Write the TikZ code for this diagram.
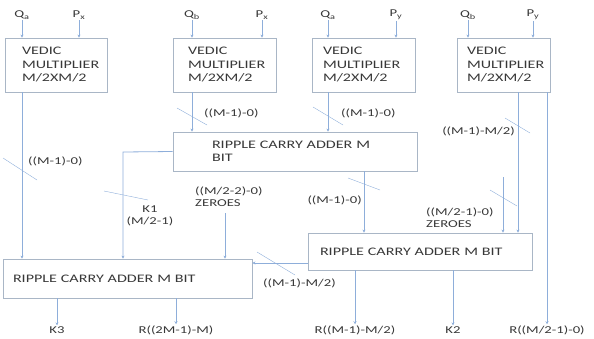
\documentclass[tikz,border=0pt]{standalone}
\usepackage{fontspec}
\setmainfont{Carlito}[FakeStretch=1.4]
\usepackage{tikz}
\usetikzlibrary{
  arrows.meta,
  positioning,
  calc,
}
\definecolor{wireblue}{HTML}{8EAEDA}
\definecolor{boxgray}{HTML}{A9B6C6}
\definecolor{txtgray}{HTML}{383838}

\begin{document}
\begin{tikzpicture}[
    x=1pt, y=-1pt,
    blk/.style={draw=boxgray, thick, align=left, text=txtgray,
                font=\fontsize{11.5}{13.5}\selectfont},
    lbl/.style={text=txtgray, inner sep=1pt,
                font=\fontsize{10.5}{12}\selectfont},
    wire/.style={draw=wireblue, thick},
    bus/.style={draw=wireblue, thin},
    >={Stealth[length=3pt, width=3pt]},
  ]
  \useasboundingbox (0,0) rectangle (594,338);

  % Vedic multipliers
  \node[blk, minimum width=102, minimum height=54, text width=68, inner xsep=17]
    (vm1) at (56,65) {VEDIC\\MULTIPLIER\\M/2XM/2};
  \node[blk, minimum width=103, minimum height=54, text width=73, inner xsep=15]
    (vm2) at (224.5,65) {VEDIC\\MULTIPLIER\\M/2XM/2};
  \node[blk, minimum width=103, minimum height=54, text width=81, inner xsep=11]
    (vm3) at (363.5,65) {VEDIC\\MULTIPLIER\\M/2XM/2};
  \node[blk, minimum width=93, minimum height=54, text width=73, inner xsep=10]
    (vm4) at (503.5,65) {VEDIC\\MULTIPLIER\\M/2XM/2};

  % Ripple carry adders
  \node[blk, minimum width=244, minimum height=39, text width=166, inner xsep=39]
    (rca1) at (295,151.5) {RIPPLE CARRY ADDER M\\BIT};
  \node[blk, minimum width=224, minimum height=37, text width=200, inner xsep=12]
    (rca2) at (420,251.5) {RIPPLE CARRY ADDER M BIT};
  \node[blk, minimum width=249, minimum height=39, text width=229, inner xsep=10]
    (rca3) at (127.5,278.5) {RIPPLE CARRY ADDER M BIT};

  % inputs
  \node[lbl] (qa1) at (22,15)  {Q\textsubscript{a}};
  \node[lbl] (px1) at (79,15)  {P\textsubscript{x}};
  \node[lbl] (qb2) at (192,15) {Q\textsubscript{b}};
  \node[lbl] (px2) at (262,15) {P\textsubscript{x}};
  \node[lbl] (qa3) at (328,15) {Q\textsubscript{a}};
  \node[lbl] (py3) at (396,15) {P\textsubscript{y}};
  \node[lbl] (qb4) at (468,15) {Q\textsubscript{b}};
  \node[lbl] (py4) at (533,15) {P\textsubscript{y}};
  \foreach \i/\b in {qa1/vm1, px1/vm1, qb2/vm2, px2/vm2,
                     qa3/vm3, py3/vm3, qb4/vm4, py4/vm4}
    \draw[wire,->] (\i) -- (\i |- \b.north);

  % outputs
  \node[lbl] (k3)   at (57,330)  {K3};
  \node[lbl] (rhi)  at (176,330) {R((2M-1)-M)};
  \node[lbl] (rmid) at (355,330) {R((M-1)-M/2)};
  \node[lbl] (k2)   at (453,330) {K2};
  \node[lbl] (rlo)  at (547,330) {R((M/2-1)-0)};
  \draw[wire,->] (k3 |- rca3.south) -- (k3.north);
  \draw[wire,->] (rhi |- rca3.south) -- (rhi.north);
  \draw[wire,->] (rmid |- rca2.south) -- (rmid.north);
  \draw[wire,->] (k2 |- rca2.south) -- (k2.north);
  \draw[wire,->] (rlo |- vm4.south) -- (rlo.north);

  % internal wires
  \coordinate (m1) at (22,169);
  \coordinate (m2) at (192,116);
  \coordinate (m3) at (328,116);
  \coordinate (m4) at (518,125);
  \coordinate (m5) at (364,184);
  \coordinate (k1bend) at (123,152);
  \coordinate (z1) at (225,213);
  \coordinate (z2) at (503,177);
  \coordinate (m8) at (276,263);
  \draw[wire,->] (m1 |- vm1.south) -- (m1 |- rca3.north);
  \draw[wire,->] (m2 |- vm2.south) -- (m2 |- rca1.north);
  \draw[wire,->] (m3 |- vm3.south) -- (m3 |- rca1.north);
  \draw[wire,->] (m4 |- vm4.south) -- (m4 |- rca2.north);
  \draw[wire,->] (m5 |- rca1.south) -- (m5 |- rca2.north);
  \draw[wire,->] (rca1.west) -- (k1bend) -- (k1bend |- rca3.north);
  \draw[wire,->] (z1) -- (z1 |- rca3.north);
  \draw[wire,->] (z2) -- (z2 |- rca2.north);
  \draw[wire,->] (m8 -| rca2.west) -- (m8 -| rca3.east);

  % bus width marks
  \draw[bus] (3,158) -- (37,180);
  \draw[bus] (177,108) -- (207,125);
  \draw[bus] (313,107) -- (343,125);
  \draw[bus] (505,118) -- (530,133);
  \draw[bus] (348,178) -- (380,190);
  \draw[bus] (104,191) -- (148,200);
  \draw[bus] (490,190) -- (517,206);
  \draw[bus] (257,252) -- (295,275);

  \node[lbl, anchor=west] (w1) at (27,161)  {((M-1)-0)};
  \node[lbl, anchor=west] (w2) at (203,113) {((M-1)-0)};
  \node[lbl, anchor=west] (w3) at (340,113) {((M-1)-0)};
  \node[lbl, anchor=east] (w4) at (516,131) {((M-1)-M/2)};
  \node[lbl, anchor=east] (w5) at (363,200) {((M-1)-0)};
  \node[lbl, align=center] (w6) at (150,216) {K1\\(M/2-1)};
  \node[lbl, align=left, anchor=north west] (w7) at (194,186) {((M/2-2)-0)\\ZEROES};
  \node[lbl, align=left, anchor=north west] (w8) at (425,207) {((M/2-1)-0)\\ZEROES};
  \node[lbl, anchor=west] (w9) at (262,283) {((M-1)-M/2)};
\end{tikzpicture}
\end{document}
